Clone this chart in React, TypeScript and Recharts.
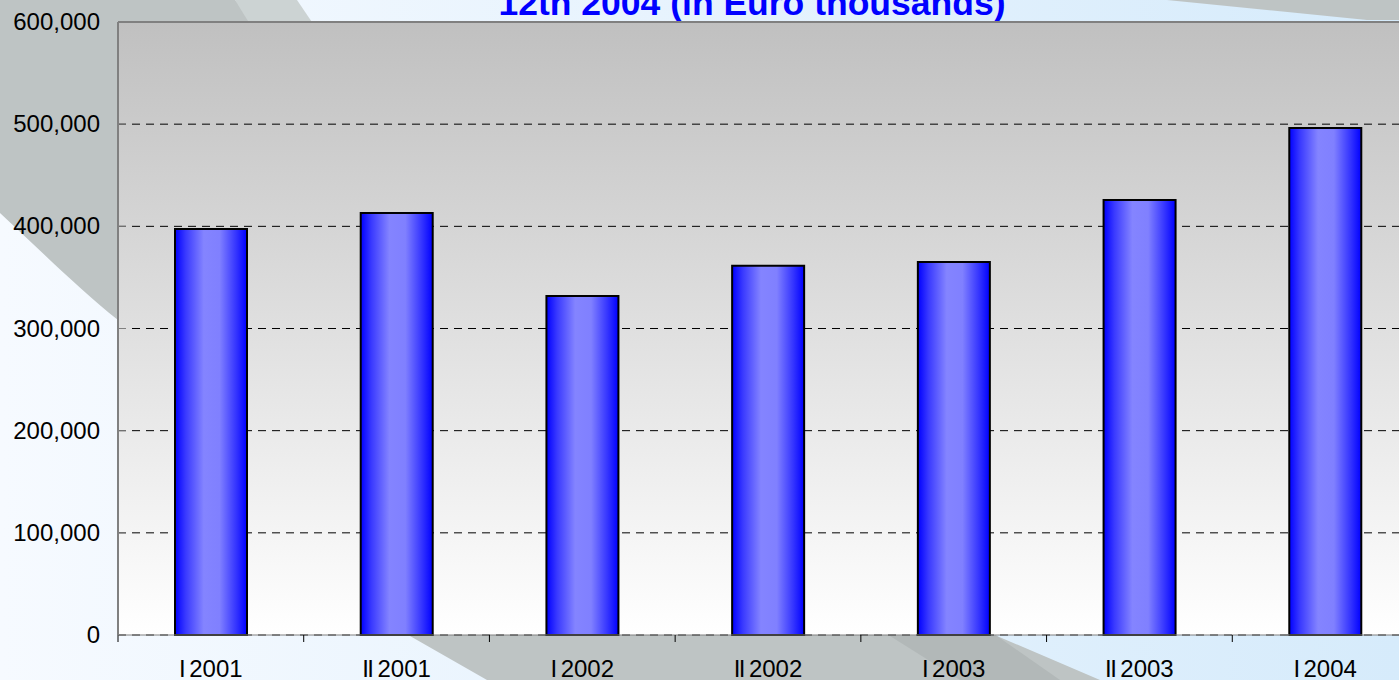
import { Bar, BarChart, CartesianGrid, ReferenceLine, XAxis, YAxis } from "recharts"

const periods = ["I 2001", "II 2001", "I 2002", "II 2002", "I 2003", "II 2003", "I 2004"]
const values = [397400, 413000, 331800, 361500, 365000, 425800, 496200]
const yTicks = [0, 100000, 200000, 300000, 400000, 500000, 600000]
const titleLine = "12th 2004 (in Euro thousands)"

const data = periods.map((p, i) => ({ period: p, value: values[i] }))

const FONT = "'Liberation Sans', Arial, sans-serif"
const CHART_W = 1420
const CHART_H = 680
const Y_AXIS_W = 118
const X_AXIS_H = 45
const TOP = 22
const RIGHT = 2
const PLOT_BOTTOM = CHART_H - X_AXIS_H
const BAND = (CHART_W - Y_AXIS_W - RIGHT) / periods.length

const fmt = (v: number) => v.toLocaleString("en-US")

function YTick(props: any) {
  const { y, payload } = props
  return (
    <g>
      <line x1={Y_AXIS_W} x2={Y_AXIS_W + 8} y1={y} y2={y} stroke="#808080" />
      <text
        x={Y_AXIS_W - 18}
        y={y}
        dy={8}
        textAnchor="end"
        fontSize={24}
        fontFamily={FONT}
        fill="#000"
      >
        {fmt(payload.value)}
      </text>
    </g>
  )
}

function XTick(props: any) {
  const { x, payload } = props
  const left = x - BAND / 2
  const [roman, year] = String(payload.value).split(" ")
  return (
    <g>
      <line x1={left} x2={left} y1={PLOT_BOTTOM} y2={PLOT_BOTTOM + 7} stroke="#000" />
      <text x={x} y={677} textAnchor="middle" fontSize={24} fontFamily={FONT} fill="#000">
        <tspan letterSpacing={-1.6}>{roman + " "}</tspan>
        <tspan>{year}</tspan>
      </text>
    </g>
  )
}

function Backdrop() {
  return (
    <svg width={1399} height={680} style={{ position: "absolute", left: 0, top: 0 }}>
      <defs>
        <linearGradient id="pageBg" x1="0" y1="0" x2="1" y2="0">
          <stop offset="0%" stopColor="#f6faff" />
          <stop offset="100%" stopColor="#d6ebfb" />
        </linearGradient>
      </defs>
      <rect x={0} y={0} width={1399} height={680} fill="url(#pageBg)" />
      {/* big grey swoosh, mostly hidden behind the plot */}
      <path
        d="M0,0 L235,0 L997,636 L1100,680 L487,680 L410,636 C300,520 200,420 118,320 C80,290 40,250 0,213 Z"
        fill="#bec4c4"
      />
      <path d="M235,0 L297,0 L500,300 L420,300 Z" fill="#ccd3d3" />
      <path d="M890,636 L997,636 L1060,680 L960,680 Z" fill="#b2b8b8" />
      <path d="M1167,0 L1399,0 L1399,20 L1367,20 Z" fill="#bec4c4" />
      <text
        x={752}
        y={15}
        textAnchor="middle"
        fontSize={35.5}
        fontWeight="bold"
        fontFamily={FONT}
        fill="#0000ff"
      >
        {titleLine}
      </text>
    </svg>
  )
}

export default function App() {
  return (
    <div
      style={{
        position: "absolute",
        left: 0,
        top: 0,
        width: 1399,
        height: 680,
        overflow: "hidden",
        fontFamily: FONT,
      }}
    >
      <Backdrop />
      <div style={{ position: "absolute", left: 0, top: 0 }}>
        <BarChart
          width={CHART_W}
          height={CHART_H}
          data={data}
          margin={{ top: TOP, right: RIGHT, bottom: 0, left: 0 }}
          barSize={72}
        >
          <defs>
            <linearGradient id="plotBg" x1="0" y1="0" x2="0" y2="1">
              <stop offset="0%" stopColor="#c0c0c0" />
              <stop offset="100%" stopColor="#ffffff" />
            </linearGradient>
            <linearGradient id="barFill" x1="0" y1="0" x2="1" y2="0">
              <stop offset="0%" stopColor="#0000ff" />
              <stop offset="15%" stopColor="#3a3aff" />
              <stop offset="40%" stopColor="#8484ff" />
              <stop offset="62%" stopColor="#8080ff" />
              <stop offset="85%" stopColor="#3434ff" />
              <stop offset="100%" stopColor="#0000ff" />
            </linearGradient>
          </defs>
          <CartesianGrid
            vertical={false}
            stroke="#000"
            strokeDasharray="8 6"
            fill="url(#plotBg)"
            fillOpacity={1}
          />
          <XAxis
            dataKey="period"
            height={X_AXIS_H}
            axisLine={{ stroke: "#808080" }}
            tickLine={false}
            tick={<XTick />}
            interval={0}
          />
          <YAxis
            width={Y_AXIS_W}
            domain={[0, 600000]}
            ticks={yTicks}
            axisLine={{ stroke: "#808080", strokeWidth: 2 }}
            tickLine={false}
            tick={<YTick />}
            interval={0}
          />
          <ReferenceLine y={600000} stroke="#808080" strokeWidth={2} />
          <Bar
            dataKey="value"
            fill="url(#barFill)"
            stroke="#000"
            strokeWidth={2}
            isAnimationActive={false}
          />
        </BarChart>
      </div>
    </div>
  )
}
